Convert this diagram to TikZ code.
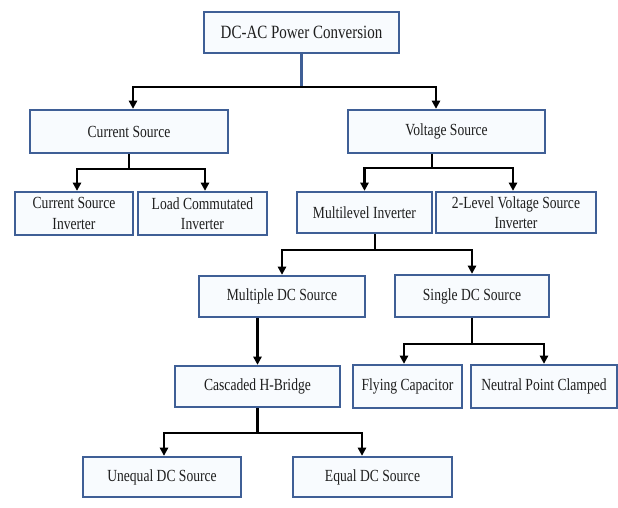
\documentclass[tikz,border=0pt]{standalone}
\usepackage{fontspec}
\setmainfont{Liberation Serif}[FakeStretch=0.8]
\usepackage{xcolor}
\usepackage{tikz}
\usetikzlibrary{arrows.meta,calc}
\definecolor{BoxEdge}{HTML}{3F5F96}
\definecolor{BoxFill}{HTML}{F8FBFE}
\definecolor{LabelInk}{HTML}{1E1E1E}

\begin{document}
\begin{tikzpicture}[x=0.03cm,y=-0.03cm,
  box/.style={draw=BoxEdge,fill=BoxFill,line width=2pt,inner sep=0pt,align=center,
    text=LabelInk,font=\fontsize{14.5}{17.5}\selectfont},
  stem/.style={draw=black,line width=2.2pt},
  link/.style={stem,-{Triangle[length=7pt,width=7pt]}}]
\path[use as bounding box,fill=white] (0,0) rectangle (618,508);
% top level
\node[box,minimum width=5.85cm,minimum height=1.23cm,font=\fontsize{16}{19}\selectfont] (root) at (301.5,32.5) {DC-AC Power Conversion};
\node[box,minimum width=5.94cm,minimum height=1.29cm] (cs) at (129,131.5) {Current Source};
\node[box,minimum width=5.91cm,minimum height=1.29cm] (vs) at (446.5,131.5) {Voltage Source};
% inverter types
\node[box,minimum width=3.54cm,minimum height=1.29cm] (csi) at (74,213.5) {Current Source\\Inverter};
\node[box,minimum width=3.87cm,minimum height=1.29cm] (lci) at (202.5,213.5) {Load Commutated\\Inverter};
\node[box,minimum width=4.05cm,minimum height=1.23cm] (ml) at (364.5,212.5) {Multilevel Inverter};
\node[box,minimum width=4.80cm,minimum height=1.23cm] (vsi2) at (516,212.5) {2-Level Voltage Source\\Inverter};
% multilevel branches
\node[box,minimum width=4.98cm,minimum height=1.23cm] (mdc) at (282,296.5) {Multiple DC Source};
\node[box,minimum width=4.62cm,minimum height=1.26cm] (sdc) at (472,296) {Single DC Source};
\node[box,minimum width=4.95cm,minimum height=1.23cm] (chb) at (257.5,386.5) {Cascaded H-Bridge};
\node[box,minimum width=3.27cm,minimum height=1.29cm] (fc) at (407.5,386.5) {Flying Capacitor};
\node[box,minimum width=4.38cm,minimum height=1.29cm] (npc) at (544,386.5) {Neutral Point Clamped};
\node[box,minimum width=4.74cm,minimum height=1.20cm] (udc) at (162,477) {Unequal DC Source};
\node[box,minimum width=4.77cm,minimum height=1.20cm] (edc) at (372.5,477) {Equal DC Source};
% connectors
\draw[stem,draw=BoxEdge] (root.south) -- ++(0,33) coordinate (rootbar);
\draw[link] (rootbar) -| ($(cs.north)+(4,0)$);
\draw[link] (rootbar) -| ($(vs.north)+(-10.5,0)$);
\draw[stem] (cs.south) -- ++(0,15) coordinate (csbar);
\draw[link] (csbar) -| ($(csi.north)+(3,0)$);
\draw[link] (csbar) -| ($(lci.north)+(2.5,0)$);
\draw[stem] ($(vs.south)+(-14.5,0)$) -- ++(0,14) coordinate (vsbar);
\draw[link] (vsbar) -| (ml.north);
\draw[link] (vsbar) -| ($(vsi2.north)+(-3,0)$);
\draw[stem] ($(ml.south)+(10.5,0)$) -- ++(0,16) coordinate (mlbar);
\draw[link] (mlbar) -| (mdc.north);
\draw[link] (mlbar) -| (sdc.north);
\draw[link] ($(mdc.south)+(-24.5,0)$) -- (chb.north);
\draw[stem] (sdc.south) -- ++(0,26) coordinate (sdcbar);
\draw[link] (sdcbar) -| ($(fc.north)+(-3.5,0)$);
\draw[link] (sdcbar) -| (npc.north);
\draw[stem] (chb.south) -- ++(0,25) coordinate (chbbar);
\draw[link] (chbbar) -| ($(udc.north)+(2,0)$);
\draw[link] (chbbar) -| ($(edc.north)+(-10.5,0)$);
\end{tikzpicture}
\end{document}
